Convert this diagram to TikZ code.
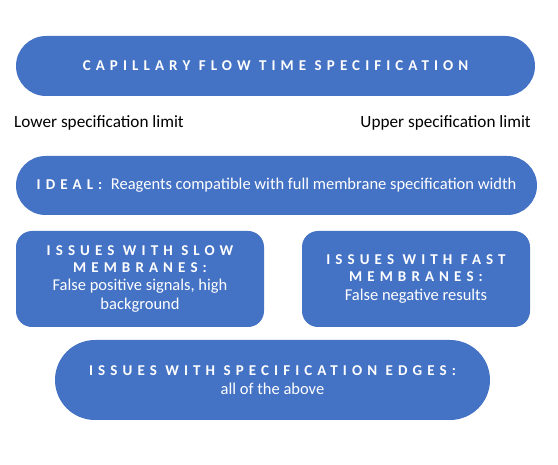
\documentclass[tikz,border=0pt]{standalone}
\usepackage{fontspec}
\setmainfont{Carlito}
\newfontfamily\headfont[LetterSpace=34]{Carlito Bold}
\newcommand\hdf{\headfont\fontsize{15}{18}\selectfont}
\newcommand\bdf{\normalfont\fontsize{16.5}{18.5}\selectfont}
\definecolor{offblue}{HTML}{4472C4}
\begin{document}
\begin{tikzpicture}[x=1pt,y=-1pt,
  pill/.style={fill=offblue,draw=none,text=white,align=center,inner sep=0pt,font=\bdf},
  lbl/.style={font=\fontsize{17.2}{20}\selectfont,inner sep=0pt}]
\useasboundingbox (0,0) rectangle (558,465);
\node[pill,minimum width=519pt,minimum height=60pt,rounded corners=30pt,font=\hdf] (top) at (275.5,66) {CAPILLARY FLOW TIME SPECIFICATION};
\node[lbl,anchor=west] (lower) at (14,123) {Lower specification limit};
\node[lbl,anchor=east] (upper) at (531,123) {Upper specification limit};
\node[pill,minimum width=521pt,minimum height=59pt,rounded corners=29.5pt] (ideal) at (276.5,185.5)
  {\hdf IDEAL:\ \bdf Reagents compatible with full membrane specification width};
\node[pill,minimum width=248pt,minimum height=96pt,rounded corners=16pt] (slow) at (140,279)
  {\hdf ISSUES WITH SLOW\\[-1.5pt]\hdf MEMBRANES:\\\bdf False positive signals, high\\\bdf background};
\node[pill,minimum width=228pt,minimum height=96pt,rounded corners=16pt] (fast) at (416,279)
  {\hdf ISSUES WITH FAST\\[-1.5pt]\hdf MEMBRANES:\\[1pt]\bdf False negative results};
\node[pill,minimum width=435pt,minimum height=80pt,rounded corners=40pt] (edges) at (272.5,380)
  {\hdf ISSUES WITH SPECIFICATION EDGES:\\[1pt]\bdf all of the above};
\end{tikzpicture}
\end{document}
